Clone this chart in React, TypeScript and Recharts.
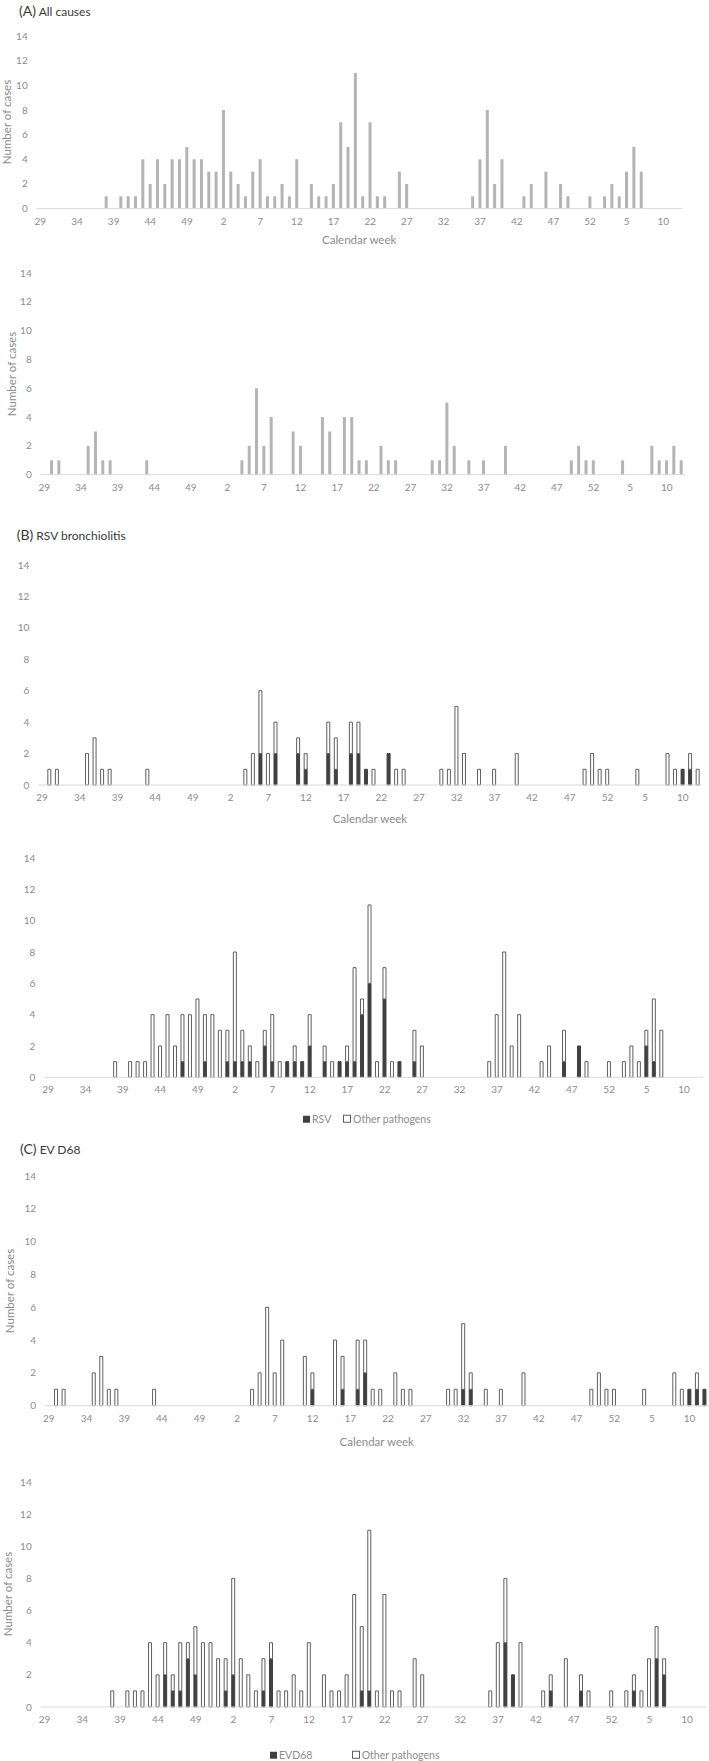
import { BarChart, Bar, XAxis, YAxis } from "recharts";

// calendar weeks on the category axis: season start wk 29 .. next year wk 12
const weeks = [
  29, 30, 31, 32, 33, 34, 35, 36, 37, 38, 39, 40, 41, 42, 43, 44, 45, 46, 47, 48, 49, 50, 51, 52,
  1, 2, 3, 4, 5, 6, 7, 8, 9, 10, 11, 12, 13, 14, 15, 16, 17, 18, 19, 20, 21, 22, 23, 24, 25, 26,
  27, 28, 29, 30, 31, 32, 33, 34, 35, 36, 37, 38, 39, 40, 41, 42, 43, 44, 45, 46, 47, 48, 49, 50,
  51, 52, 1, 2, 3, 4, 5, 6, 7, 8, 9, 10, 11, 12,
];

const yTicks = [0, 2, 4, 6, 8, 10, 12, 14];

// cohort 1 (A top, B bottom, C bottom)
const cohort1Total = [
  0, 0, 0, 0, 0, 0, 0, 0, 0, 1,
  0, 1, 1, 1, 4, 2, 4, 2, 4, 4,
  5, 4, 4, 3, 3, 8, 3, 2, 1, 3,
  4, 1, 1, 2, 1, 4, 0, 2, 1, 1,
  2, 7, 5, 11, 1, 7, 1, 1, 0, 3,
  2, 0, 0, 0, 0, 0, 0, 0, 0, 1,
  4, 8, 2, 4, 0, 0, 1, 2, 0, 3,
  0, 2, 1, 0, 0, 1, 0, 1, 2, 1,
  3, 5, 3, 0, 0, 0, 0, 0,
];
const cohort1Rsv = [
  0, 0, 0, 0, 0, 0, 0, 0, 0, 0,
  0, 0, 0, 0, 0, 0, 0, 0, 1, 0,
  0, 1, 0, 0, 1, 1, 1, 1, 0, 2,
  1, 0, 1, 1, 1, 2, 0, 1, 0, 1,
  1, 1, 4, 6, 0, 5, 0, 1, 0, 1,
  0, 0, 0, 0, 0, 0, 0, 0, 0, 0,
  0, 0, 0, 0, 0, 0, 0, 0, 0, 1,
  0, 2, 0, 0, 0, 0, 0, 0, 0, 0,
  2, 1, 0, 0, 0, 0, 0, 0,
];
const cohort1Evd = [
  0, 0, 0, 0, 0, 0, 0, 0, 0, 0,
  0, 0, 0, 0, 0, 0, 2, 1, 1, 3,
  2, 0, 0, 0, 1, 2, 0, 0, 0, 1,
  3, 0, 0, 0, 0, 0, 0, 0, 0, 0,
  0, 0, 1, 1, 0, 0, 0, 0, 0, 0,
  0, 0, 0, 0, 0, 0, 0, 0, 0, 0,
  0, 4, 2, 0, 0, 0, 0, 1, 0, 0,
  0, 1, 0, 0, 0, 0, 0, 0, 1, 0,
  0, 3, 2, 0, 0, 0, 0, 0,
];

// cohort 2 (A second, B top, C top)
const cohort2Total = [
  0, 1, 1, 0, 0, 0, 2, 3, 1, 1,
  0, 0, 0, 0, 1, 0, 0, 0, 0, 0,
  0, 0, 0, 0, 0, 0, 0, 1, 2, 6,
  2, 4, 0, 0, 3, 2, 0, 0, 4, 3,
  0, 4, 4, 1, 1, 0, 2, 1, 1, 0,
  0, 0, 0, 1, 1, 5, 2, 0, 1, 0,
  1, 0, 0, 2, 0, 0, 0, 0, 0, 0,
  0, 0, 1, 2, 1, 1, 0, 0, 0, 1,
  0, 0, 0, 2, 1, 1, 2, 1,
];
const cohort2Rsv = [
  0, 0, 0, 0, 0, 0, 0, 0, 0, 0,
  0, 0, 0, 0, 0, 0, 0, 0, 0, 0,
  0, 0, 0, 0, 0, 0, 0, 0, 0, 2,
  0, 2, 0, 0, 2, 1, 0, 0, 2, 1,
  0, 2, 2, 1, 0, 0, 2, 0, 0, 0,
  0, 0, 0, 0, 0, 0, 0, 0, 0, 0,
  0, 0, 0, 0, 0, 0, 0, 0, 0, 0,
  0, 0, 0, 0, 0, 0, 0, 0, 0, 0,
  0, 0, 0, 0, 0, 1, 1, 0,
];
const cohort2Evd = [
  0, 0, 0, 0, 0, 0, 0, 0, 0, 0,
  0, 0, 0, 0, 0, 0, 0, 0, 0, 0,
  0, 0, 0, 0, 0, 0, 0, 0, 0, 0,
  0, 0, 0, 0, 0, 1, 0, 0, 0, 1,
  0, 1, 2, 0, 0, 0, 0, 0, 0, 0,
  0, 0, 0, 0, 0, 1, 1, 0, 0, 0,
  0, 0, 0, 0, 0, 0, 0, 0, 0, 0,
  0, 0, 0, 0, 0, 0, 0, 0, 0, 0,
  0, 0, 0, 0, 0, 1, 1, 1,
];

function makeRows(total: number[], dark?: number[]) {
  return weeks.map((w, i) => ({
    key: i,
    week: w,
    total: total[i],
    dark: dark ? dark[i] : 0,
    other: dark ? total[i] - dark[i] : total[i],
  }));
}

const GREY_TEXT = "#8c8c8c";
const FONT = "Lato, 'Open Sans', sans-serif";

type PanelDef = {
  x0: number;
  x1: number;
  y0: number;
  y1: number;
  rows: ReturnType<typeof makeRows>;
  stacked: boolean;
  title?: { tag: string; text: string; x: number; y: number };
  yLabelX?: number;
  xLabelY?: number;
  legend?: { y: number; darkX: number; darkName: string; otherX: number };
};

const panels: PanelDef[] = [
  {
    x0: 36.7, x1: 681.7, y0: 35.7, y1: 208.3,
    rows: makeRows(cohort1Total), stacked: false,
    title: { tag: "(A)", text: "All causes", x: 19, y: 9.5 },
    yLabelX: 7, xLabelY: 240,
  },
  {
    x0: 40.7, x1: 685, y0: 273.3, y1: 475,
    rows: makeRows(cohort2Total), stacked: false,
    yLabelX: 11.7,
  },
  {
    x0: 38.3, x1: 701.7, y0: 565, y1: 785,
    rows: makeRows(cohort2Total, cohort2Rsv), stacked: true,
    title: { tag: "(B)", text: "RSV bronchiolitis", x: 16.7, y: 534 },
    xLabelY: 819.3,
  },
  {
    x0: 44.3, x1: 702.7, y0: 857.7, y1: 1077,
    rows: makeRows(cohort1Total, cohort1Rsv), stacked: true,
    legend: { y: 1119, darkX: 303, darkName: "RSV", otherX: 343 },
  },
  {
    x0: 45, x1: 708.5, y0: 1176, y1: 1405.7,
    rows: makeRows(cohort2Total, cohort2Evd), stacked: true,
    title: { tag: "(C)", text: "EV D68", x: 20, y: 1148 },
    yLabelX: 10, xLabelY: 1441.7,
  },
  {
    x0: 40.7, x1: 706, y0: 1481.7, y1: 1706.7,
    rows: makeRows(cohort1Total, cohort1Evd), stacked: true,
    yLabelX: 7.5,
    legend: { y: 1755, darkX: 270, darkName: "EVD68", otherX: 351.7 },
  },
];

function Panel({ p }: { p: PanelDef }) {
  const yAxisW = 30;
  const mTop = 6;
  const xAxisH = 24;
  const height = p.y1 - p.y0 + mTop + xAxisH;
  const mid = (p.x0 + p.x1) / 2;
  return (
    <>
      <div style={{ position: "absolute", left: 0, top: p.y0 - mTop }}>
        <BarChart
          width={709}
          height={height}
          data={p.rows}
          margin={{ top: mTop, right: 709 - p.x1, bottom: 0, left: p.x0 - yAxisW }}
        >
          <XAxis
            dataKey="key"
            interval={4}
            height={xAxisH}
            tickLine={false}
            axisLine={{ stroke: "#d9d9d9" }}
            tick={{ fill: GREY_TEXT, fontSize: 10, fontFamily: FONT }}
            tickMargin={3}
            tickFormatter={(v) => String(weeks[Number(v)])}
          />
          <YAxis
            width={yAxisW}
            domain={[0, 14]}
            ticks={yTicks}
            interval={0}
            axisLine={false}
            tickLine={false}
            tickMargin={3}
            tick={{ fill: GREY_TEXT, fontSize: 10, fontFamily: FONT }}
          />
          {p.stacked ? (
            <>
              <Bar dataKey="dark" stackId="s" barSize={3} fill="#404040" stroke="#404040" strokeWidth={1} isAnimationActive={false} />
              <Bar dataKey="other" stackId="s" barSize={3} fill="#ffffff" stroke="#5f5f5f" strokeWidth={1} isAnimationActive={false} />
            </>
          ) : (
            <Bar dataKey="total" barSize={3} fill="#b4b4b4" isAnimationActive={false} />
          )}
        </BarChart>
      </div>
      {p.title && (
        <div
          style={{
            position: "absolute", left: p.title.x, top: p.title.y, transform: "translateY(-50%)",
            color: "#3a3a3a", whiteSpace: "nowrap", lineHeight: 1,
          }}
        >
          <span style={{ fontSize: 14 }}>{p.title.tag}</span>
          <span style={{ fontSize: 12 }}> {p.title.text}</span>
        </div>
      )}
      {p.yLabelX !== undefined && (
        <div
          style={{
            position: "absolute", left: p.yLabelX, top: (p.y0 + p.y1) / 2,
            transform: "translate(-50%, -50%) rotate(-90deg)",
            fontSize: 11.5, color: GREY_TEXT, whiteSpace: "nowrap", lineHeight: 1,
          }}
        >
          Number of cases
        </div>
      )}
      {p.xLabelY !== undefined && (
        <div
          style={{
            position: "absolute", left: mid, top: p.xLabelY, transform: "translate(-50%, -50%)",
            fontSize: 11.5, color: GREY_TEXT, whiteSpace: "nowrap", lineHeight: 1,
          }}
        >
          Calendar week
        </div>
      )}
      {p.legend && (
        <>
          <div
            style={{
              position: "absolute", left: p.legend.darkX, top: p.legend.y, transform: "translateY(-50%)",
              display: "flex", alignItems: "center", fontSize: 10.5, color: GREY_TEXT, whiteSpace: "nowrap", lineHeight: 1,
            }}
          >
            <span style={{ display: "inline-block", width: 7, height: 7, background: "#404040", marginRight: 2 }} />
            {p.legend.darkName}
          </div>
          <div
            style={{
              position: "absolute", left: p.legend.otherX, top: p.legend.y, transform: "translateY(-50%)",
              display: "flex", alignItems: "center", fontSize: 10.5, color: GREY_TEXT, whiteSpace: "nowrap", lineHeight: 1,
            }}
          >
            <span style={{ display: "inline-block", width: 6, height: 6, border: "1px solid #5f5f5f", background: "#fff", marginRight: 2 }} />
            Other pathogens
          </div>
        </>
      )}
    </>
  );
}

export default function App() {
  return (
    <div
      style={{
        position: "absolute", left: 0, top: 0, width: 709, height: 1761,
        background: "#ffffff", fontFamily: FONT, overflow: "hidden",
      }}
    >
      {panels.map((p, i) => (
        <Panel key={i} p={p} />
      ))}
    </div>
  );
}
